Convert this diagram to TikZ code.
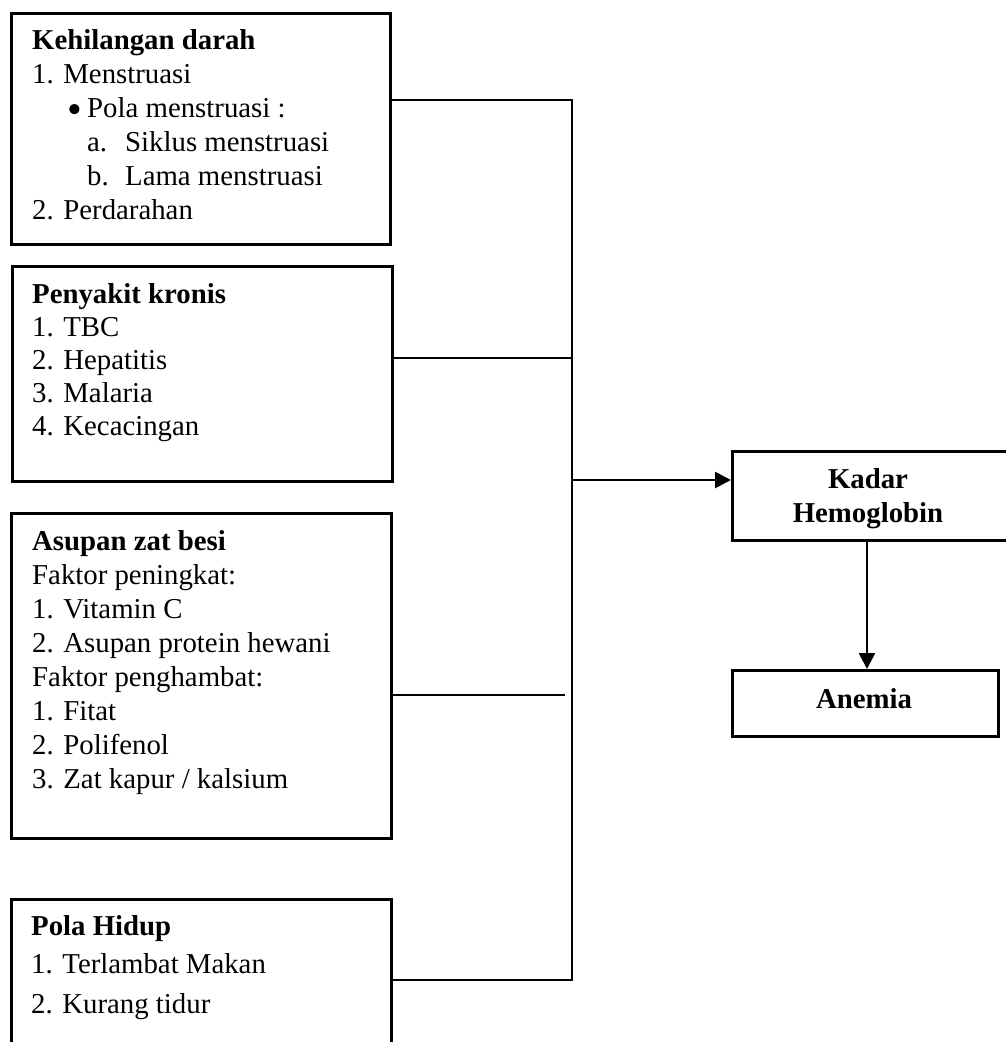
\documentclass[tikz,border=0pt]{standalone}
\usepackage{fontspec}
\setmainfont{Liberation Serif}
\usetikzlibrary{arrows.meta}
\tikzset{
  box/.style={draw, line width=2.7pt, anchor=north west, inner sep=0pt},
  txt/.style={anchor=base west, inner sep=0pt, font=\fontsize{28.8}{34}\selectfont},
  ctxt/.style={anchor=base, inner sep=0pt, font=\fontsize{28.8}{34}\selectfont\bfseries},
  conn/.style={line width=2.7pt},
  arr/.style={line width=2.7pt, -{Triangle[length=16pt,width=16pt]}}
}
\begin{document}
\begin{tikzpicture}[x=1pt,y=-1pt]
\clip (0,0) rectangle (1006,1042);
\fill[white] (0,0) rectangle (1006,1042);
% boxes
\node[box, minimum width=379pt, minimum height=231pt] (b1) at (10,12) {};
\node[box, minimum width=380pt, minimum height=215pt] (b2) at (11,265) {};
\node[box, minimum width=380pt, minimum height=325pt] (b3) at (10,512) {};
\node[box, minimum width=380pt, minimum height=170pt] (b4) at (10,898) {};
\node[box, minimum width=275pt, minimum height=89pt] (kadar) at (731,450) {};
\node[box, minimum width=266pt, minimum height=66pt] (anemia) at (731,669) {};
% box 1 text
\node[txt] (t11) at (32,49) {\textbf{Kehilangan darah}};
\node[txt] (t12) at (32,83) {1. Menstruasi};
\node[txt, font=\fontsize{42}{34}\selectfont] (t13) at (67,123) {\textbullet};
\node[txt] (t14) at (87,117) {Pola menstruasi :};
\node[txt] (t15) at (87,151) {a.};
\node[txt] (t16) at (125,151) {Siklus menstruasi};
\node[txt] (t17) at (87,185) {b.};
\node[txt] (t18) at (125,185) {Lama menstruasi};
\node[txt] (t19) at (32,219) {2. Perdarahan};
% box 2 text
\node[txt] (t21) at (32,303) {\textbf{Penyakit kronis}};
\node[txt] (t22) at (32,336) {1. TBC};
\node[txt] (t23) at (32,369) {2. Hepatitis};
\node[txt] (t24) at (32,402) {3. Malaria};
\node[txt] (t25) at (32,435) {4. Kecacingan};
% box 3 text
\node[txt] (t31) at (32,550) {\textbf{Asupan zat besi}};
\node[txt] (t32) at (32,584) {Faktor peningkat:};
\node[txt] (t33) at (32,618) {1. Vitamin C};
\node[txt] (t34) at (32,652) {2. Asupan protein hewani};
\node[txt] (t35) at (32,686) {Faktor penghambat:};
\node[txt] (t36) at (32,720) {1. Fitat};
\node[txt] (t37) at (32,754) {2. Polifenol};
\node[txt] (t38) at (32,788) {3. Zat kapur / kalsium};
% box 4 text
\node[txt] (t41) at (31,935) {\textbf{Pola Hidup}};
\node[txt] (t42) at (31,973) {1. Terlambat Makan};
\node[txt] (t43) at (31,1013) {2. Kurang tidur};
% right boxes text
\node[ctxt] (k1) at (868,488) {Kadar};
\node[ctxt] (k2) at (868,522) {Hemoglobin};
\node[ctxt] (a1) at (864,708) {Anemia};
% connectors
\coordinate (j1) at (572,100);
\coordinate (j2) at (572,358);
\coordinate (jA) at (572,480);
\coordinate (e3) at (565,695);
\coordinate (j4) at (572,980);
\draw[conn] (b1.east |- j1) -- (j1) -- (j4) -- (b4.east |- j4);
\draw[conn] (b2.east |- j2) -- (j2);
\draw[conn] (b3.east |- e3) -- (e3);
\draw[arr] (jA) -- (kadar.west |- jA);
\draw[arr] (kadar.south -| 867,0) -- (anemia.north -| 867,0);
\end{tikzpicture}
\end{document}
